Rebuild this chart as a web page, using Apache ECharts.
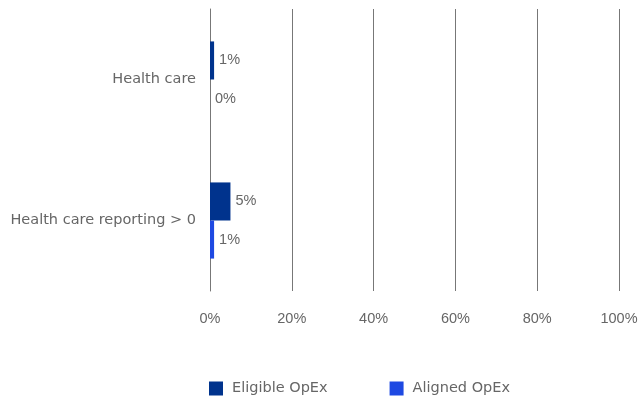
<!DOCTYPE html>
<html>
<head>
<meta charset="utf-8">
<script src="https://cdn.jsdelivr.net/npm/echarts@6/dist/echarts.min.js"></script>
<style>
  html, body { margin: 0; padding: 0; background: #ffffff; }
  #chart { width: 641px; height: 400px; }
</style>
</head>
<body>
<div id="chart"></div>
<script>
// Categories, top to bottom
const categories = ['Health care', 'Health care reporting > 0'];
// Share of OpEx, in percent
const eligibleOpEx = [1, 5];
const alignedOpEx = [0, 1];
const seriesNames = ['Eligible OpEx', 'Aligned OpEx'];
const xTicks = [0, 20, 40, 60, 80, 100];

const textColor = '#666666';
const wordFont = '"DejaVu Sans", "Liberation Sans", Arial, sans-serif';
const numberFont = '"Liberation Sans", Arial, sans-serif';

const chart = echarts.init(document.getElementById('chart'), null, { renderer: 'canvas' });

const labelStyle = {
  show: true,
  position: 'right',
  distance: 5,
  color: textColor,
  fontSize: 14.5,
  fontFamily: numberFont,
  formatter: p => p.value + '%'
};

chart.setOption({
  animation: false,
  color: ['#00338D', '#1E49E2'],
  grid: { left: 210, right: 22, top: 9, height: 282, containLabel: false },
  legend: {
    top: 381,
    left: 209,
    padding: 0,
    itemWidth: 14,
    itemHeight: 14,
    itemGap: 62,
    icon: 'rect',
    textStyle: { color: textColor, fontSize: 14.5, fontFamily: wordFont, padding: [0, 0, 0, 4] },
    data: seriesNames
  },
  xAxis: {
    type: 'value',
    min: xTicks[0],
    max: xTicks[xTicks.length - 1],
    interval: xTicks[1] - xTicks[0],
    axisLine: { show: false },
    axisTick: { show: false },
    axisLabel: {
      color: textColor,
      fontSize: 14.5,
      fontFamily: numberFont,
      margin: 20,
      formatter: v => v + '%'
    },
    splitLine: { show: true, lineStyle: { color: '#777777', width: 1 } }
  },
  yAxis: {
    type: 'category',
    inverse: true,
    data: categories,
    axisLine: { show: true, lineStyle: { color: '#777777', width: 1 } },
    axisTick: { show: false },
    axisLabel: { color: textColor, fontSize: 14.5, fontFamily: wordFont, margin: 14 }
  },
  series: [
    {
      name: seriesNames[0],
      type: 'bar',
      data: eligibleOpEx,
      barGap: '0%',
      barCategoryGap: '46%',
      label: labelStyle
    },
    {
      name: seriesNames[1],
      type: 'bar',
      data: alignedOpEx,
      barGap: '0%',
      barCategoryGap: '46%',
      label: labelStyle
    }
  ]
});
</script>
</body>
</html>
